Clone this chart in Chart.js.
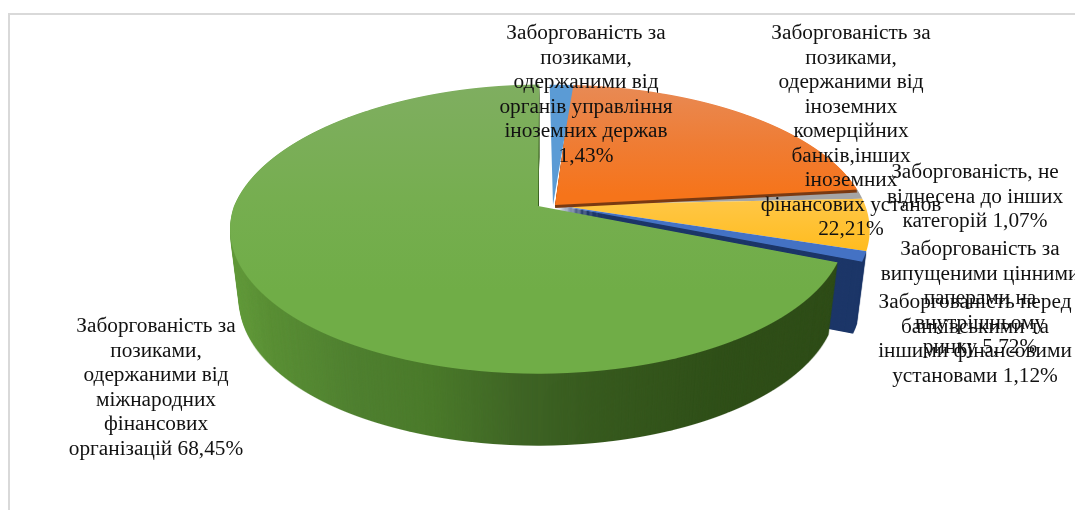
<!DOCTYPE html>
<html>
<head>
<meta charset="utf-8">
<script src="https://cdn.jsdelivr.net/npm/chart.js"></script>
<style>
  html, body { margin: 0; padding: 0; background: #fff; overflow: hidden; }
  #box { position: relative; width: 1075px; height: 510px; }
  #frame { position: absolute; left: 8px; top: 13px; right: 0; bottom: 0; border-top: 2px solid #d9d9d9; border-left: 2px solid #d9d9d9; }
  canvas { position: absolute; left: 0; top: 0; }
</style>
</head>
<body>
<div id="box">
  <div id="frame"></div>
  <canvas id="pie" width="1075" height="510"></canvas>
</div>
<script>
const categories = [
  'Заборгованість за позиками, одержаними від органів управління іноземних держав',
  'Заборгованість за позиками, одержаними від іноземних комерційних банків,інших іноземних фінансових установ',
  'Заборгованість, не віднесена до інших категорій',
  'Заборгованість за випущеними цінними паперами на внутрішньому ринку',
  'Заборгованість перед банківськими та іншими фінансовими установами',
  'Заборгованість за позиками, одержаними від міжнародних фінансових організацій'
];
const shares = [1.43, 22.21, 1.07, 5.72, 1.12, 68.45];
const labelLines = [
  ['Заборгованість за', 'позиками,', 'одержаними від', 'органів управління', 'іноземних держав', '1,43%'],
  ['Заборгованість за', 'позиками,', 'одержаними від', 'іноземних', 'комерційних', 'банків,інших', 'іноземних', 'фінансових установ', '22,21%'],
  ['Заборгованість, не', 'віднесена до інших', 'категорій 1,07%'],
  ['Заборгованість за', 'випущеними цінними', 'паперами на', 'внутрішньому', 'ринку 5,72%'],
  ['Заборгованість перед', 'банківськими та', 'іншими фінансовими', 'установами 1,12%'],
  ['Заборгованість за', 'позиками,', 'одержаними від', 'міжнародних', 'фінансових', 'організацій 68,45%']
];

// centre x / first baseline y of every label
const labelAt = [[586, 39], [851, 39], [975, 178], [980, 255], [975, 308], [156, 332]];
const sliceColors = ['#5b9bd5', '#ed7d31', '#a5a5a5', '#ffc02d', '#4472c4', '#70ad47'];

// perspective of the tilted disc
const depth = 72, bottomNarrow = 0.03;
const inPlace = { x: 555, y: 205, rx: 310, ry: 141, tilt: 0.172, lean: 0 };
// the big slice is pulled out of the pie, its cut edge stands upright
const pulled = { x: 538, y: 206, rx: 304, ry: 141, tilt: 0.159, lean: 0.066 };
const firstSlice = { x: 553, y: 205, rx: 310, ry: 141, tilt: 0.172, lean: 0.03 };

// paints one slice through horizontal strips, gives back a canvas
function sliceLayer(chart, arc, paint, at) {
  const place = at || inPlace;
  const layer = document.createElement('canvas');
  layer.width = chart.canvas.width;
  layer.height = chart.canvas.height;
  const c = layer.getContext('2d');
  const R = arc.outerRadius;
  for (let row = place.y - 135; row < place.y + 200; row++) {
    const dy = row + 0.5 - place.y;
    const v = dy / (place.ry + place.tilt * dy);
    const k = 1 - place.tilt * v;
    const a = place.rx / k / R;
    const d = place.ry / (k * k) / R;
    const x = place.x + (dy < 0 ? -dy * place.lean : 0);
    c.save();
    c.beginPath();
    c.rect(0, row, layer.width, 1);
    c.clip();
    c.setTransform(a, 0, 0, d, x - arc.x * a, row + 0.5 - (arc.y + v * R) * d);
    arc.draw(c);
    c.restore();
  }
  c.globalCompositeOperation = 'source-in';
  c.fillStyle = paint(c);
  c.fillRect(0, 0, layer.width, layer.height);
  return layer;
}

function stops(c, x0, y0, x1, y1, list) {
  const g = c.createLinearGradient(x0, y0, x1, y1);
  list.forEach(s => g.addColorStop(s[0], s[1]));
  return g;
}

// side wall: copies of the slice going down, a little narrower the deeper they are
function drawRim(ctx, layer, centerX) {
  for (let i = depth; i > 0; i--) {
    const s = 1 - bottomNarrow * i / depth;
    ctx.drawImage(layer, centerX * (1 - s), i, layer.width * s, layer.height);
  }
}

const pie3d = {
  id: 'pie3d',
  beforeDatasetDraw(chart) {
    const ctx = chart.ctx;
    const arcs = chart.getDatasetMeta(0).data;

    drawRim(ctx, sliceLayer(chart, arcs[4], () => '#1c3668'), inPlace.x);
    drawRim(ctx, sliceLayer(chart, arcs[5], c => stops(c, 230, 0, 840, 0, [
      [0, '#639b3c'], [0.06, '#5a8f35'], [0.2, '#4f8030'], [0.33, '#4a7a2a'], [0.47, '#3f6525'], [0.6, '#375a1e'], [0.81, '#2f4f18'], [1, '#2f4d18']
    ]), pulled), pulled.x);

    ctx.drawImage(sliceLayer(chart, arcs[2], () => '#a5a5a5'), 0, 0);
    ctx.drawImage(sliceLayer(chart, arcs[3], c => stops(c, 0, 195, 0, 255, [[0, '#ffc84a'], [1, '#ffbb1c']])), 0, 0);
    ctx.drawImage(sliceLayer(chart, arcs[4], () => '#4472c4'), 0, 0);
    ctx.drawImage(sliceLayer(chart, arcs[5], c => stops(c, 0, 85, 0, 290, [[0, '#7fae60'], [0.55, '#76ae50'], [1, '#70ad47']]), pulled), 0, 0);

    const brown = sliceLayer(chart, arcs[1], () => '#7a3a12');
    for (let i = 3; i > 0; i--) ctx.drawImage(brown, 0, i);
    ctx.drawImage(sliceLayer(chart, arcs[1], c => stops(c, 0, 85, 0, 195, [[0, '#e88a55'], [0.55, '#ef7c33'], [1, '#f6741a']])), 0, 0);
    ctx.drawImage(sliceLayer(chart, arcs[0], () => '#5b9bd5', firstSlice), 0, 0);
    return false;
  },
  afterDraw(chart) {
    const ctx = chart.ctx;
    ctx.save();
    ctx.fillStyle = '#111';
    ctx.font = '21.3px "Liberation Serif"';
    ctx.textAlign = 'center';
    labelLines.forEach((lines, n) => {
      lines.forEach((line, i) => ctx.fillText(line, labelAt[n][0], labelAt[n][1] + i * 24.55));
    });
    ctx.restore();
  }
};

new Chart(document.getElementById('pie'), {
  type: 'pie',
  data: {
    labels: categories,
    datasets: [{
      data: shares,
      backgroundColor: sliceColors,
      borderWidth: 0
    }]
  },
  options: {
    responsive: false,
    animation: false,
    rotation: -1.5,
    plugins: { legend: { display: false }, tooltip: { enabled: false } }
  },
  plugins: [pie3d]
});
</script>
</body>
</html>
